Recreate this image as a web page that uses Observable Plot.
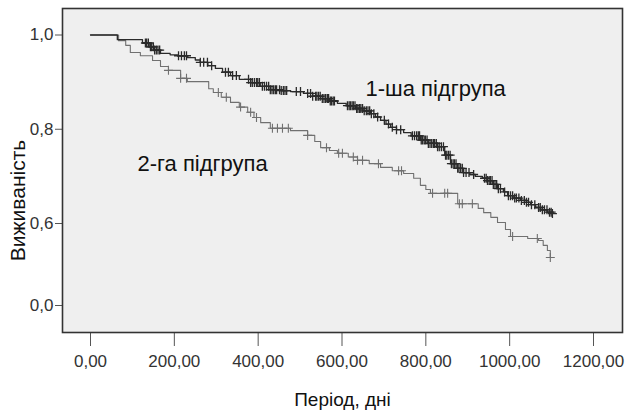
<!DOCTYPE html>
<html><head><meta charset="utf-8">
<script src="https://cdn.jsdelivr.net/npm/d3@7"></script>
<script src="https://cdn.jsdelivr.net/npm/@observablehq/plot@0.6"></script>
<style>body{margin:0;background:#fff}</style>
</head><body><div id="chart"></div>
<script>
// Kaplan–Meier step points (day, survival) – subgroup 1
const g1Days = [0, 64, 124, 140, 152, 167, 190, 208, 231, 250, 262, 280, 298, 315, 334, 355, 382, 405, 429, 455, 477, 508, 530, 549, 570, 589, 610, 632, 650, 668, 680, 692, 705, 716, 730, 747, 765, 787, 805, 828, 845, 859, 875, 890, 905, 918, 935, 947, 960, 971, 985, 995, 1010, 1026, 1040, 1050, 1062, 1074, 1090, 1102];
const g1Surv = [1.0, 0.990, 0.983, 0.975, 0.968, 0.961, 0.958, 0.956, 0.952, 0.947, 0.942, 0.935, 0.929, 0.921, 0.914, 0.906, 0.899, 0.891, 0.884, 0.882, 0.880, 0.876, 0.870, 0.865, 0.860, 0.855, 0.850, 0.844, 0.839, 0.833, 0.826, 0.819, 0.811, 0.804, 0.799, 0.793, 0.786, 0.777, 0.770, 0.763, 0.745, 0.727, 0.717, 0.708, 0.704, 0.700, 0.696, 0.691, 0.683, 0.674, 0.667, 0.659, 0.654, 0.649, 0.645, 0.640, 0.634, 0.629, 0.624, 0.621];
// censored observations – subgroup 1 (days)
const g1Censor = [131, 134, 138, 143, 146, 150, 153, 157, 161, 165, 210, 217, 224, 229, 262, 270, 279, 289, 322, 329, 339, 348, 377, 382, 386, 391, 396, 399, 403, 410, 415, 420, 425, 429, 433, 437, 441, 444, 451, 455, 460, 464, 468, 491, 501, 518, 525, 530, 537, 540, 544, 548, 553, 557, 561, 565, 568, 572, 575, 579, 582, 613, 617, 620, 624, 627, 631, 635, 638, 642, 645, 649, 653, 658, 662, 666, 670, 676, 685, 701, 711, 720, 730, 740, 768, 773, 778, 782, 785, 789, 792, 796, 799, 803, 806, 810, 814, 818, 821, 825, 828, 832, 837, 842, 847, 850, 854, 858, 861, 865, 868, 872, 876, 879, 883, 887, 890, 896, 903, 914, 940, 944, 947, 951, 954, 958, 961, 965, 969, 973, 978, 988, 997, 1002, 1007, 1012, 1016, 1022, 1028, 1035, 1040, 1045, 1052, 1060, 1069, 1073, 1078, 1083, 1089, 1095, 1099, 1102];

// subgroup 2
const g2Days = [0, 67, 84, 95, 119, 148, 167, 186, 215, 231, 282, 293, 312, 334, 355, 375, 390, 406, 429, 477, 518, 535, 549, 570, 589, 615, 637, 665, 692, 720, 747, 771, 787, 800, 811, 876, 925, 938, 955, 971, 990, 1002, 1043, 1069, 1080, 1090, 1097];
const g2Surv = [1.0, 0.988, 0.978, 0.963, 0.956, 0.946, 0.933, 0.925, 0.908, 0.901, 0.886, 0.878, 0.868, 0.857, 0.847, 0.836, 0.825, 0.814, 0.802, 0.797, 0.787, 0.774, 0.761, 0.755, 0.749, 0.741, 0.734, 0.727, 0.719, 0.712, 0.706, 0.696, 0.681, 0.672, 0.664, 0.642, 0.632, 0.623, 0.613, 0.602, 0.556, 0.505, 0.490, 0.476, 0.440, 0.402, 0.351];
const g2Censor = [186, 215, 229, 305, 324, 358, 382, 396, 434, 446, 458, 472, 518, 563, 592, 601, 627, 637, 649, 687, 735, 742, 816, 845, 852, 880, 887, 911, 1007, 1066, 1097];

// axes
const xTicks = [0, 200, 400, 600, 800, 1000, 1200];
const xTickLabels = ["0,00", "200,00", "400,00", "600,00", "800,00", "1000,00", "1200,00"];
const yTicks = [0, 0.6, 0.8, 1.0];
const yTickLabels = ["0,0", "0,6", "0,8", "1,0"];

// group labels
const labelText = ["1-ша підгрупа", "2-га підгрупа"];
const labelDay = [656, 112];
const labelSurv = [0.886, 0.727];

const g1 = g1Days.map((d, i) => ({day: d, surv: g1Surv[i]}));
const g2 = g2Days.map((d, i) => ({day: d, surv: g2Surv[i]}));
function survAt(steps, t) {
  let s = steps[0].surv;
  for (const p of steps) { if (p.day <= t) s = p.surv; else break; }
  return s;
}
const c1 = g1Censor.map(t => ({day: t, surv: survAt(g1, t)}));
const c2 = g2Censor.map(t => ({day: t, surv: survAt(g2, t)}));
const labels = labelText.map((t, i) => ({text: t, day: labelDay[i], surv: labelSurv[i]}));

const plusSymbol = {
  draw(ctx, size) {
    const h = Math.sqrt(size / Math.PI);
    ctx.moveTo(-h, 0); ctx.lineTo(h, 0);
    ctx.moveTo(0, -h); ctx.lineTo(0, h);
  }
};

// broken (piecewise) survival axis as in the original figure
const yBreak = d3.scaleLinear().domain([0, 0.6, 1.0]).range([305, 223, 34.5]);
const yTickPos = yTicks.map(yBreak);

const tickFont = "'Liberation Sans', Arial, sans-serif";
const textFont = "'Liberation Sans', Arial, sans-serif";

const chart = Plot.plot({
  width: 636,
  height: 420,
  marginLeft: 62,
  marginRight: 14,
  marginTop: 8,
  marginBottom: 88,
  style: {background: "#fff", fontFamily: textFont, color: "#222"},
  x: {domain: [0, 1200], range: [90, 593]},
  y: {transform: yBreak, domain: [0, 420], range: [0, 420]},
  marks: [
    Plot.frame({fill: "#efefef", stroke: null}),
    Plot.axisX({ticks: xTicks, tickSize: 14, tickPadding: 8, label: null,
      tickFormat: d => xTickLabels[xTicks.indexOf(d)],
      fontSize: 17, fontFamily: tickFont, stroke: "#555", fill: "#333"}),
    Plot.axisY({ticks: yTickPos, tickSize: 7, tickPadding: 2, label: null,
      tickFormat: d => yTickLabels[yTickPos.indexOf(d)],
      fontSize: 17, fontFamily: tickFont, stroke: "#555", fill: "#333"}),
    Plot.line(g2, {x: "day", y: "surv", curve: "step-after", stroke: "#707070", strokeWidth: 1.1}),
    Plot.dot(c2, {x: "day", y: "surv", symbol: plusSymbol, r: 4.5, stroke: "#707070", strokeWidth: 1.1, fill: "none"}),
    Plot.line(g1, {x: "day", y: "surv", curve: "step-after", stroke: "#2a2a2a", strokeWidth: 1.3}),
    Plot.dot(c1, {x: "day", y: "surv", symbol: plusSymbol, r: 4.5, stroke: "#2a2a2a", strokeWidth: 1.3, fill: "none"}),
    Plot.frame({stroke: "#333", strokeWidth: 1.6}),
    Plot.text(labels, {x: "day", y: "surv", text: "text", textAnchor: "start", fontSize: 22, fontFamily: textFont, fill: "#111"}),
    Plot.text(["Період, дні"], {frameAnchor: "bottom", textAnchor: "middle", dy: 73, fontSize: 19, fontFamily: textFont, fill: "#111"}),
    Plot.text(["Виживаність"], {frameAnchor: "left", textAnchor: "middle", dx: -44, dy: 30, rotate: -90, fontSize: 21, fontFamily: textFont, fill: "#111"})
  ]
});
document.getElementById("chart").append(chart);
</script>
</body></html>
